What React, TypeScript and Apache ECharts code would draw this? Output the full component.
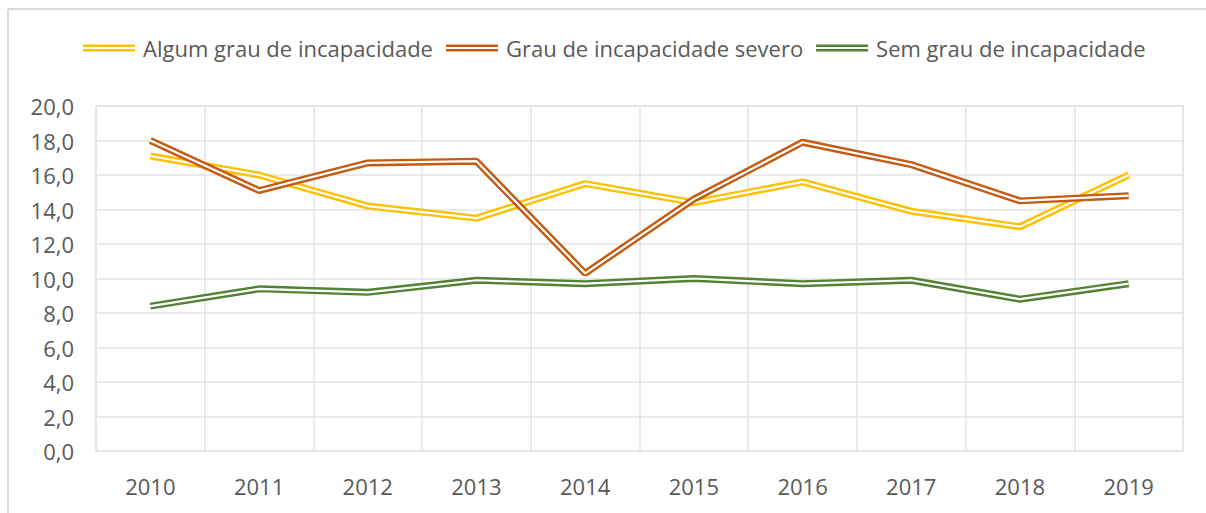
import React, { useEffect, useRef } from "react";
import * as echarts from "echarts";

const years = ["2010", "2011", "2012", "2013", "2014", "2015", "2016", "2017", "2018", "2019"];
const algumGrau = [17.1, 16.0, 14.2, 13.5, 15.5, 14.4, 15.6, 13.9, 13.0, 16.0];
const grauSevero = [18.0, 15.1, 16.7, 16.8, 10.3, 14.6, 17.9, 16.6, 14.5, 14.8];
const semGrau = [8.4, 9.4, 9.2, 9.9, 9.7, 10.0, 9.7, 9.9, 8.8, 9.7];
const seriesNames = ["Algum grau de incapacidade", "Grau de incapacidade severo", "Sem grau de incapacidade"];
const seriesColors = ["#FFC000", "#C55A11", "#548235"];

const FONT = "'Open Sans', 'Noto Sans', sans-serif";

export default function App() {
  const ref = useRef<HTMLDivElement>(null);
  useEffect(() => {
    if (!ref.current) return;
    const chart = echarts.init(ref.current, null, { renderer: "svg" });
    const datas = [algumGrau, grauSevero, semGrau];
    const series: any[] = [];
    datas.forEach((d, i) => {
      series.push({
        name: seriesNames[i],
        type: "line",
        data: d,
        symbol: "none",
        color: seriesColors[i],
        lineStyle: { color: seriesColors[i], width: 7 },
        z: 2 + i * 2,
      });
      series.push({
        name: seriesNames[i] + "_gap",
        type: "line",
        data: d,
        symbol: "none",
        lineStyle: { color: "#FFFFFF", width: 2.2 },
        z: 3 + i * 2,
        tooltip: { show: false },
      });
    });
    chart.setOption({
      animation: false,
      backgroundColor: "#FFFFFF",
      legend: {
        data: seriesNames,
        left: 78,
        top: 32,
        itemWidth: 52,
        itemHeight: 7,
        itemGap: 13,
        icon: "path://M0,0H52V2.4H0Z M0,4.6H52V7H0Z",
        textStyle: { color: "#595959", fontSize: 22, fontFamily: FONT, padding: [0, 0, 0, 3] },
      },
      grid: { left: 96, top: 106, right: 23, bottom: 62, show: true, borderColor: "#D9D9D9", borderWidth: 1 },
      xAxis: {
        type: "category",
        data: years,
        boundaryGap: true,
        axisLine: { show: false },
        axisTick: { show: false },
        splitLine: { show: true, lineStyle: { color: "#E3E3E3", width: 1.5 } },
        axisLabel: { color: "#595959", fontSize: 22, fontFamily: FONT, margin: 24 },
      },
      yAxis: {
        type: "value",
        min: 0,
        max: 20,
        interval: 2,
        axisLine: { show: false },
        axisTick: { show: false },
        splitLine: { show: true, lineStyle: { color: "#E3E3E3", width: 1.5 } },
        axisLabel: {
          color: "#595959",
          fontSize: 22,
          fontFamily: FONT,
          margin: 22,
          formatter: (v: number) => v.toFixed(1).replace(".", ","),
        },
      },
      graphic: [
        { type: "line", shape: { x1: 8, y1: 9, x2: 1206, y2: 9 }, style: { stroke: "#D9D9D9", lineWidth: 2 } },
        { type: "line", shape: { x1: 8, y1: 9, x2: 8, y2: 513 }, style: { stroke: "#D9D9D9", lineWidth: 2 } },
      ],
      series,
    });
    return () => chart.dispose();
  }, []);
  return <div ref={ref} style={{ position: "absolute", left: 0, top: 0, width: 1206, height: 513 }} />;
}
